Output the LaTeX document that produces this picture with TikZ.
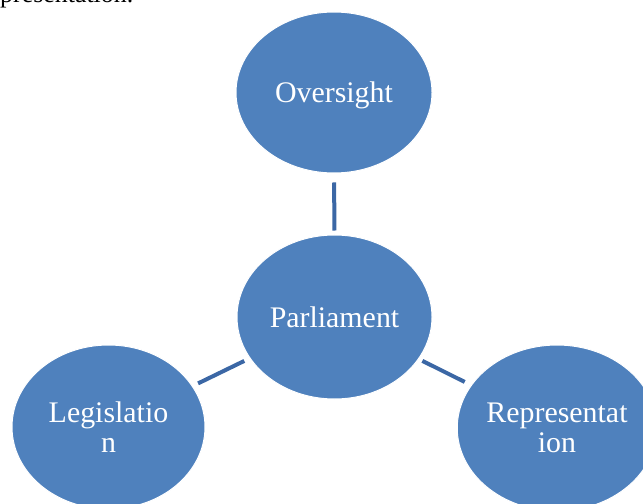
\documentclass[tikz,border=0pt]{standalone}
\usepackage{fontspec}
\setmainfont{Liberation Serif}
\usetikzlibrary{shapes.geometric}
\definecolor{bubblefill}{HTML}{4F81BD}
\definecolor{linkcol}{HTML}{3B67A5}
\begin{document}
\begin{tikzpicture}[x=1bp,y=-1bp,
  bubble/.style={ellipse, fill=bubblefill, draw=white, line width=1bp, inner sep=0pt,
    text=white, font=\fontsize{30}{30}\selectfont, align=center},
  link/.style={draw=linkcol, line width=4bp}]
\useasboundingbox (0,0) rectangle (643,504);
\begin{scope}
\clip (0,0) rectangle (643,504);
\node[anchor=base west, inner sep=0pt, font=\fontsize{26}{26}\selectfont] (cut) at (0,3) {presentation.};
\node[bubble, minimum width=196bp, minimum height=161bp, text height=27bp] (over) at (334,92.5) {Oversight};
\node[bubble, minimum width=195bp, minimum height=164bp] (parl) at (334.5,317) {Parliament};
\node[bubble, minimum width=193bp, minimum height=164bp] (leg) at (108.5,427) {Legislatio\\n};
\node[bubble, minimum width=190bp, minimum height=166bp] (rep) at (557,428) {Representat\\ion};
\draw[link, shorten <=9bp, shorten >=4bp] (over) -- (parl);
\draw[link, shorten <=6bp, shorten >=6bp] (parl) -- (leg);
\draw[link, shorten <=4bp, shorten >=7bp] (parl) -- (rep);
\end{scope}
\end{tikzpicture}
\end{document}
